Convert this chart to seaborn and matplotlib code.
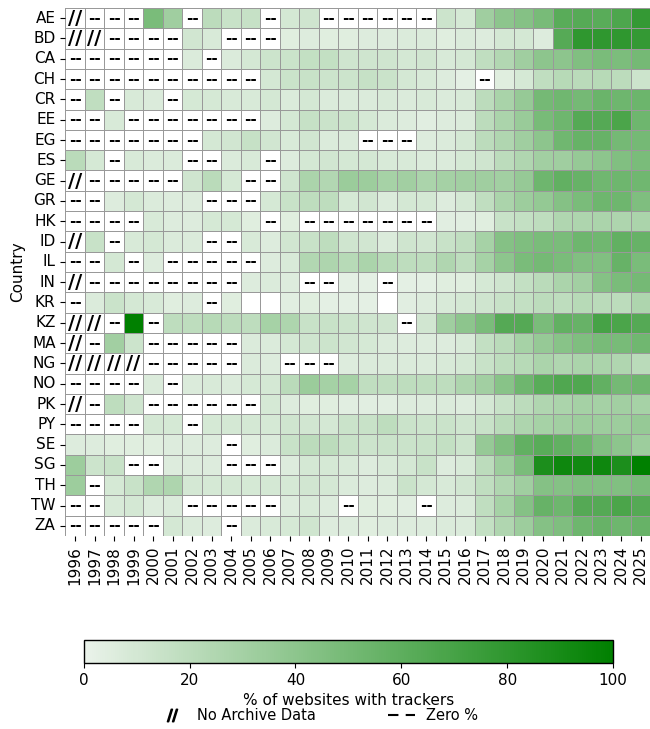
import numpy as np
import pandas as pd
import matplotlib
matplotlib.use("Agg")
import matplotlib.pyplot as plt
import seaborn as sns
from matplotlib.lines import Line2D

N = np.nan  # no archive data

years = list(range(1996, 2026))
countries = ["AE", "BD", "CA", "CH", "CR", "EE", "EG", "ES", "GE", "GR", "HK", "ID", "IL",
             "IN", "KR", "KZ", "MA", "NG", "NO", "PK", "PY", "SE", "SG", "TH", "TW", "ZA"]

# % of websites with trackers, 1996..2025 (0 = none, nan = no archive)
ae = [N, 0, 0, 0, 48, 32, 0, 20, 15, 16, 0, 10, 12, 0, 0, 0, 0, 0, 0, 13, 9, 32, 40, 43, 49, 62, 63, 62, 67, 78]
bd = [N, N, 0, 0, 0, 0, 11, 8, 0, 0, 0, 5, 6, 5, 5, 6, 6, 7, 7, 5, 7, 6, 10, 10, 6, 63, 80, 80, 80, 78]
ca = [0, 0, 0, 0, 0, 0, 7, 0, 7, 10, 13, 14, 17, 17, 12, 12, 12, 10, 11, 8, 10, 18, 24, 32, 40, 40, 45, 48, 47, 50]
ch = [0, 0, 0, 0, 0, 0, 0, 0, 0, 0, 10, 14, 15, 13, 13, 16, 14, 10, 8, 6, 3, 0, 5, 9, 18, 22, 21, 22, 20, 13]
cr = [0, 18, 0, 8, 7, 0, 9, 9, 8, 8, 10, 7, 10, 7, 7, 7, 8, 7, 8, 7, 8, 20, 28, 36, 50, 52, 50, 55, 53, 54]
ee = [0, 0, 8, 0, 0, 0, 0, 0, 0, 0, 6, 10, 16, 14, 13, 9, 7, 6, 4, 6, 7, 20, 27, 35, 49, 53, 64, 64, 68, 53]
eg = [0, 0, 0, 0, 0, 0, 0, 10, 11, 16, 11, 8, 11, 7, 7, 0, 0, 0, 6, 7, 10, 20, 25, 32, 40, 52, 56, 56, 50, 50]
es = [21, 9, 0, 8, 7, 7, 0, 0, 7, 8, 0, 6, 10, 11, 10, 10, 8, 8, 7, 7, 9, 12, 20, 25, 31, 32, 36, 40, 45, 48]
ge = [N, 0, 0, 0, 0, 0, 12, 21, 9, 0, 0, 12, 27, 24, 34, 33, 29, 31, 27, 30, 31, 32, 31, 36, 53, 58, 56, 52, 53, 52]
gr = [0, 0, 6, 10, 7, 6, 6, 0, 0, 0, 9, 15, 19, 19, 9, 11, 7, 10, 10, 6, 10, 18, 27, 33, 37, 43, 48, 53, 53, 46]
hk = [0, 0, 0, 0, 8, 6, 6, 9, 9, 5, 0, 5, 0, 0, 0, 0, 0, 0, 0, 4, 4, 5, 15, 17, 19, 25, 26, 27, 26, 27]
id_ = [N, 15, 0, 8, 10, 7, 7, 0, 0, 8, 6, 11, 15, 19, 12, 11, 7, 12, 11, 15, 18, 29, 43, 46, 48, 48, 53, 52, 58, 56]
il = [0, 0, 10, 0, 6, 0, 0, 0, 0, 0, 6, 8, 24, 26, 22, 27, 22, 19, 19, 25, 19, 29, 40, 48, 50, 48, 45, 45, 56, 48]
in_ = [N, 0, 0, 0, 0, 0, 0, 0, 0, 6, 7, 6, 0, 0, 3, 3, 0, 3, 3, 5, 5, 9, 12, 17, 21, 27, 31, 43, 48, 50]
kr = [0, 7, 14, 10, 8, 5, 6, 0, 5, N, N, 4, 5, 3, 3, 3, N, 4, 6, 8, 10, 12, 15, 17, 20, 19, 22, 21, 20, 26]
kz = [N, N, 0, 100, 0, 19, 19, 22, 20, 19, 29, 26, 15, 15, 13, 12, 12, 0, 11, 32, 40, 48, 64, 64, 48, 58, 56, 70, 68, 64]
ma = [N, 0, 31, 13, 0, 0, 0, 0, 0, 7, 7, 10, 12, 13, 11, 9, 7, 6, 6, 6, 8, 17, 21, 29, 36, 42, 46, 49, 49, 52]
ng = [N, N, N, N, 0, 0, 0, 0, 0, 7, 6, 0, 0, 0, 6, 7, 7, 7, 7, 8, 10, 15, 19, 22, 27, 25, 27, 27, 25, 21]
no = [0, 0, 0, 0, 7, 0, 7, 8, 7, 9, 10, 21, 34, 30, 29, 18, 18, 19, 19, 19, 26, 31, 42, 53, 62, 66, 66, 58, 50, 53]
pk = [N, 0, 19, 12, 0, 0, 0, 0, 0, 0, 9, 6, 5, 5, 4, 4, 4, 6, 6, 7, 6, 10, 15, 20, 25, 27, 30, 30, 31, 29]
py = [0, 0, 0, 0, 10, 9, 0, 9, 10, 10, 9, 12, 11, 10, 14, 15, 19, 14, 13, 14, 12, 15, 21, 26, 29, 31, 33, 33, 33, 36]
se = [6, 6, 5, 5, 5, 6, 6, 6, 0, 5, 7, 15, 20, 20, 15, 13, 14, 14, 15, 17, 13, 36, 46, 58, 62, 58, 53, 45, 40, 33]
sg = [33, 13, 15, 0, 0, 6, 6, 6, 0, 0, 0, 6, 10, 9, 8, 6, 8, 10, 15, 6, 8, 20, 33, 48, 88, 94, 92, 94, 88, 100]
th = [33, 0, 9, 15, 25, 26, 10, 9, 10, 9, 10, 9, 11, 10, 7, 6, 7, 14, 10, 8, 11, 18, 25, 32, 43, 43, 45, 45, 45, 48]
tw = [0, 0, 8, 10, 6, 7, 0, 0, 0, 0, 0, 6, 8, 6, 0, 5, 5, 4, 0, 6, 7, 18, 29, 43, 56, 53, 64, 64, 68, 64]
za = [0, 0, 0, 0, 0, 10, 7, 6, 0, 7, 8, 9, 12, 6, 6, 5, 6, 6, 6, 7, 7, 17, 25, 33, 43, 46, 53, 56, 53, 56]

rows = [ae, bd, ca, ch, cr, ee, eg, es, ge, gr, hk, id_, il, in_, kr, kz, ma, ng, no, pk, py, se, sg, th, tw, za]
df = pd.DataFrame(rows, index=countries, columns=years, dtype=float)
vals = df.to_numpy()

cmap = sns.light_palette("green", as_cmap=True)

fig = plt.figure(figsize=(6.5, 7.29), dpi=100)
ax = fig.add_axes([0.1005, 0.2647, 0.9, 0.7243])
cax = fig.add_axes([0.129, 0.0905, 0.814, 0.0316])

mask = np.isnan(vals) | (vals == 0)

sns.heatmap(df, mask=mask, cmap=cmap, vmin=0, vmax=100, linewidths=0.5,
            linecolor="#999999", ax=ax, cbar_ax=cax,
            cbar_kws={"orientation": "horizontal"})
cb = ax.collections[0].colorbar

# light grid behind the empty cells
nr, nc = vals.shape
ax.hlines(range(nr + 1), 0, nc, color="#cccccc", lw=0.5, zorder=0.5)
ax.vlines(range(nc + 1), 0, nr, color="#cccccc", lw=0.5, zorder=0.5)

# annotate zeros and missing archive years
for i in range(nr):
    started = False
    for j in range(nc):
        v = vals[i, j]
        if not np.isnan(v):
            started = True
        if v == 0:
            ax.text(j + 0.5, i + 0.5, "--", ha="center", va="center",
                    fontsize=11, fontweight="bold", color="black")
        elif np.isnan(v) and not started:
            ax.text(j + 0.5, i + 0.52, "//", ha="center", va="center",
                    fontsize=14, fontweight="bold", color="black")

ax.set_xticks(np.arange(nc) + 0.5)
ax.set_xticklabels(years, rotation=90, fontsize=11)
ax.set_yticklabels(countries, rotation=0, fontsize=11)
ax.set_xlabel("")
ax.set_ylabel("Country", fontsize=11)

cb.outline.set_linewidth(1)
cb.outline.set_edgecolor("black")
cb.set_ticks([0, 20, 40, 60, 80, 100])
cb.ax.tick_params(labelsize=11)
cb.set_label("% of websites with trackers", fontsize=11)

handles = [Line2D([], [], marker="$//$", color="black", linestyle="None", markersize=9),
           Line2D([], [], color="black", linestyle=(0, (5, 3.5)), linewidth=1.5)]
fig.legend(handles, ["No Archive Data", "Zero %"], loc="center",
           bbox_to_anchor=(0.49, 0.018), ncol=2, frameon=False, fontsize=10.5,
           columnspacing=5, handlelength=1.8)

fig.savefig("out.png", dpi=100)
